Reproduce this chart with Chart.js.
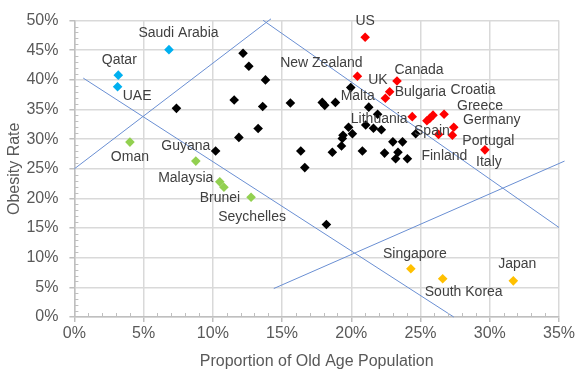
<!DOCTYPE html>
<html lang="en">
<head>
    <meta charset="UTF-8">
    <title>Obesity Rate vs Old Age Population</title>
    <script src="https://cdn.jsdelivr.net/npm/chart.js"></script>
    <style>
        body { margin: 0; background: #fff; }
        #wrap { width: 585px; height: 375px; position: relative; }
    </style>
</head>
<body>
    <div id="wrap"><canvas id="chart"></canvas></div>

    <script>
        // Gulf states
        const blueNames = ['Saudi Arabia', 'Qatar', 'UAE'];
        const blueAge = [6.83, 3.17, 3.12];
        const blueObesity = [45.1, 40.8, 38.85];

        // other young-population countries
        const greenNames = ['Oman', 'Guyana', 'Malaysia', 'Brunei', 'Seychelles'];
        const greenAge = [4.01, 8.77, 10.5, 10.8, 12.76];
        const greenObesity = [29.5, 26.3, 22.8, 21.9, 20.2];

        // East Asia
        const orangeNames = ['Singapore', 'South Korea', 'Japan'];
        const orangeAge = [24.3, 26.6, 31.7];
        const orangeObesity = [8.15, 6.45, 6.1];

        // western countries
        const redNames = ['US', 'New Zealand', 'Canada', 'UK', 'Bulgaria', 'Lithuania', 'Croatia', 'Greece', '', 'Spain', 'Germany', '', 'Portugal', 'Italy'];
        const redAge = [21.0, 20.44, 23.3, 22.77, 22.46, 24.4, 26.7, 25.9, 25.66, 25.46, 27.4, 26.3, 27.3, 29.65];
        const redObesity = [47.2, 40.6, 39.8, 38.0, 36.9, 33.8, 34.2, 34.05, 33.5, 33.1, 32.0, 30.8, 30.65, 28.2];

        // the rest
        const blackAge = [7.37, 12.18, 12.6, 13.8, 11.54, 13.6, 15.6, 13.27, 11.88, 10.2, 16.35, 16.64, 17.9, 18.08, 18.85, 19.96, 21.26, 21.9,
            19.8, 20.08, 19.4, 19.35, 19.29, 18.63, 21.04, 21.6, 22.17, 20.8, 22.4, 23.0, 23.7, 23.37, 23.2, 24.05, 24.65, 18.2];
        const blackObesity = [35.2, 44.5, 42.3, 40.0, 36.6, 35.5, 36.1, 31.8, 30.3, 28.0, 28.0, 25.2, 36.2, 35.7, 36.2, 38.7, 35.4, 34.2,
            32.0, 30.9, 30.65, 30.1, 28.85, 27.8, 32.4, 31.85, 31.6, 28.0, 27.65, 29.55, 29.55, 27.8, 26.7, 26.7, 30.9, 15.6];
        const blackNames = blackAge.map(() => '');
        blackNames[15] = 'Malta';
        blackNames[33] = 'Finland';

        // hand drawn separator lines: [age, obesity] end points
        const lineA = [[0, 25.0], [14.2, 50.3]];
        const lineB = [[13.63, 50.05], [35.0, 15.1]];
        const lineC = [[0.64, 40.3], [27.4, 0]];
        const lineD = [[14.4, 4.8], [35.4, 26.3]];

        const xTicks = [0, 5, 10, 15, 20, 25, 30, 35];
        const yTicks = [0, 5, 10, 15, 20, 25, 30, 35, 40, 45, 50];

        // label offsets from the marker, in pixels
        const labelOffset = {
            'Saudi Arabia': [9.5, -17], 'Qatar': [1, -15], 'UAE': [19.5, 9],
            'Oman': [0, 15], 'Guyana': [-10, -15], 'Malaysia': [-34, -4], 'Brunei': [-4, 11], 'Seychelles': [1, 20],
            'Singapore': [4, -15], 'South Korea': [21, 13], 'Japan': [4, -17],
            'US': [0, -16], 'New Zealand': [-36, -13], 'Canada': [22, -11], 'UK': [-11.7, -12], 'Bulgaria': [35, -6],
            'Lithuania': [-33, 3], 'Croatia': [29, -24], 'Greece': [47, -9], 'Spain': [5, 10], 'Germany': [38, -7],
            'Portugal': [36, 6], 'Italy': [4, 12], 'Malta': [7, 9], 'Finland': [37, -3]
        };

        const FONT = "'Liberation Sans', Arial, sans-serif";

        function pts(xs, ys) {
            return xs.map((x, i) => ({ x: x, y: ys[i] }));
        }
        function scatterSet(xs, ys, names, color) {
            return {
                type: 'scatter', data: pts(xs, ys), names: names,
                pointStyle: 'rectRot', pointRadius: 4.8, pointHoverRadius: 4.8,
                backgroundColor: color, borderColor: color, borderWidth: 0
            };
        }
        function lineSet(seg) {
            return {
                type: 'line', data: seg.map(p => ({ x: p[0], y: p[1] })),
                borderColor: '#6a8fd3', borderWidth: 1, pointRadius: 0, fill: false, clip: false
            };
        }

        // data labels next to markers
        const labelPlugin = {
            id: 'countryLabels',
            afterDatasetsDraw(chart) {
                const ctx = chart.ctx;
                ctx.save();
                ctx.font = '14px ' + FONT;
                ctx.fillStyle = '#404040';
                ctx.textAlign = 'center';
                ctx.textBaseline = 'middle';
                chart.data.datasets.forEach((ds, di) => {
                    if (!ds.names) return;
                    const meta = chart.getDatasetMeta(di);
                    ds.names.forEach((n, i) => {
                        if (!n) return;
                        const el = meta.data[i];
                        const off = labelOffset[n] || [0, -14];
                        ctx.fillText(n, el.x + off[0], el.y + off[1]);
                    });
                });
                ctx.restore();
            }
        };

        // minor tick marks every 1%
        const minorTicks = {
            id: 'minorTicks',
            afterDraw(chart) {
                const ctx = chart.ctx;
                const xs = chart.scales.x, ys = chart.scales.y;
                const ax = xs.getPixelForValue(0), ay = ys.getPixelForValue(0);
                ctx.save();
                ctx.strokeStyle = '#bfbfbf';
                ctx.lineWidth = 1;
                ctx.beginPath();
                for (let v = 1; v < 50; v++) {
                    if (v % 5 === 0) continue;
                    const y = Math.round(ys.getPixelForValue(v)) + 0.5;
                    ctx.moveTo(ax, y); ctx.lineTo(ax + 4, y);
                }
                for (let v = 1; v < 35; v++) {
                    if (v % 5 === 0) continue;
                    const x = Math.round(xs.getPixelForValue(v)) + 0.5;
                    ctx.moveTo(x, ay); ctx.lineTo(x, ay - 4);
                }
                ctx.stroke();
                ctx.restore();
            }
        };

        new Chart(document.getElementById('chart'), {
            data: {
                datasets: [
                    lineSet(lineA), lineSet(lineB), lineSet(lineC), lineSet(lineD),
                    scatterSet(blackAge, blackObesity, blackNames, '#000000'),
                    scatterSet(blueAge, blueObesity, blueNames, '#00b0f0'),
                    scatterSet(greenAge, greenObesity, greenNames, '#92d050'),
                    scatterSet(orangeAge, orangeObesity, orangeNames, '#ffc000'),
                    scatterSet(redAge, redObesity, redNames, '#ff0000')
                ]
            },
            options: {
                responsive: true,
                maintainAspectRatio: false,
                animation: false,
                layout: { padding: { top: 12, right: 26, left: 0, bottom: 0 } },
                plugins: { legend: { display: false }, tooltip: { enabled: false } },
                scales: {
                    x: {
                        type: 'linear', min: 0, max: 35,
                        afterBuildTicks: s => { s.ticks = xTicks.map(v => ({ value: v })); },
                        afterFit: s => { s.height = 58; },
                        ticks: { callback: v => v + '%', color: '#595959', font: { family: FONT, size: 16 }, padding: 2, maxRotation: 0 },
                        grid: { color: '#d9d9d9', lineWidth: 1.5, tickLength: 5, tickColor: '#bfbfbf' },
                        border: { color: '#bfbfbf', width: 1.5 },
                        title: { display: true, text: 'Proportion of Old Age Population', color: '#595959', font: { family: FONT, size: 16 }, padding: { top: -2 } }
                    },
                    y: {
                        type: 'linear', min: 0, max: 50,
                        afterBuildTicks: s => { s.ticks = yTicks.map(v => ({ value: v })); },
                        afterFit: s => { s.width = 74.4; },
                        ticks: { callback: v => v + '%', color: '#595959', font: { family: FONT, size: 16 }, padding: 11 },
                        grid: { color: '#d9d9d9', lineWidth: 1.5, tickLength: 5, tickColor: '#bfbfbf' },
                        border: { color: '#bfbfbf', width: 1.5 },
                        title: { display: true, text: 'Obesity Rate', color: '#595959', font: { family: FONT, size: 16 }, padding: { top: 5, bottom: 0 } }
                    }
                }
            },
            plugins: [labelPlugin, minorTicks]
        });
    </script>
</body>
</html>
